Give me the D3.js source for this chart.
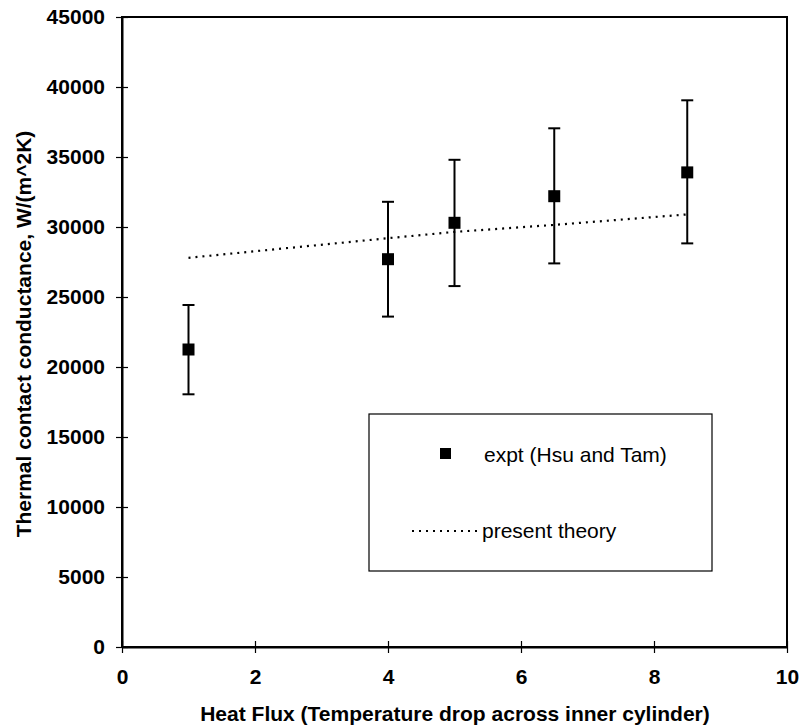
<!DOCTYPE html>
<html>
<head>
<meta charset="utf-8">
<script src="https://cdn.jsdelivr.net/npm/d3@7"></script>
<style>
  body { margin: 0; background: #fff; }
  svg { display: block; font-family: "Liberation Sans", Arial, sans-serif; }
</style>
</head>
<body>
<svg id="chart" width="800" height="726"></svg>
<script>
// experimental points (Hsu and Tam)
var exptX = [1, 4, 5, 6.5, 8.5];
var exptY = [21250, 27700, 30300, 32200, 33900];
var exptLow = [18050, 23600, 25780, 27400, 28830];
var exptHigh = [24430, 31800, 34800, 37050, 39050];

// present theory
var theoryX = [1, 4, 5, 6.5, 8.5];
var theoryY = [27800, 29200, 29650, 30150, 30900];

var xTicks = [0, 2, 4, 6, 8, 10];
var yTicks = [0, 5000, 10000, 15000, 20000, 25000, 30000, 35000, 40000, 45000];

var svg = d3.select("#chart");

var margin = {top: 17, right: 13, bottom: 79, left: 122},
    width = +svg.attr("width") - margin.left - margin.right,
    height = +svg.attr("height") - margin.top - margin.bottom,
    g = svg.append("g").attr("transform", "translate(" + margin.left + "," + margin.top + ")");

var x = d3.scaleLinear().domain([0, 10]).range([0, width]);
var y = d3.scaleLinear().domain([0, 45000]).range([height, 0]);

// frame
g.append("rect")
    .attr("width", width)
    .attr("height", height)
    .attr("fill", "none")
    .attr("stroke", "#000")
    .attr("stroke-width", 2);

// axes
var yAxis = g.append("g")
    .call(d3.axisLeft(y).tickValues(yTicks).tickFormat(d3.format("d"))
      .tickSizeInner(6).tickSizeOuter(0).tickPadding(11));
yAxis.select(".domain").attr("stroke-width", 2);
yAxis.selectAll(".tick line").attr("x2", 6).attr("x1", -6).attr("stroke-width", 1.2);
yAxis.selectAll(".tick text")
    .style("font-size", "21px")
    .style("font-weight", "bold")
    .attr("fill", "#000");

var xAxis = g.append("g")
    .attr("transform", "translate(0," + height + ")")
    .call(d3.axisBottom(x).tickValues(xTicks).tickSizeInner(6).tickSizeOuter(0).tickPadding(16));
xAxis.select(".domain").attr("stroke-width", 2);
xAxis.selectAll(".tick line").attr("y1", -6).attr("y2", 6).attr("stroke-width", 1.2);
xAxis.selectAll(".tick text")
    .style("font-size", "21px")
    .style("font-weight", "bold")
    .attr("fill", "#000");

// axis titles
svg.append("text")
    .attr("transform", "translate(31,334) rotate(-90)")
    .attr("text-anchor", "middle")
    .style("font-size", "21px")
    .style("font-weight", "bold")
    .text("Thermal contact conductance, W/(m^2K)");

svg.append("text")
    .attr("x", 455)
    .attr("y", 721)
    .attr("text-anchor", "middle")
    .style("font-size", "21px")
    .style("font-weight", "bold")
    .text("Heat Flux (Temperature drop across inner cylinder)");

// theory line
var theory = theoryX.map(function(d, i) { return [d, theoryY[i]]; });
g.append("path")
    .datum(theory)
    .attr("fill", "none")
    .attr("stroke", "#000")
    .attr("stroke-width", 2.2)
    .attr("stroke-dasharray", "2,5")
    .attr("d", d3.line().x(function(d) { return x(d[0]); }).y(function(d) { return y(d[1]); }));

// error bars and points
var pts = exptX.map(function(d, i) {
  return {x: d, y: exptY[i], lo: exptLow[i], hi: exptHigh[i]};
});

var eb = g.append("g").selectAll("g")
    .data(pts)
    .enter().append("g")
    .attr("stroke", "#000")
    .attr("stroke-width", 2);

eb.append("line")
    .attr("x1", function(d) { return x(d.x); })
    .attr("x2", function(d) { return x(d.x); })
    .attr("y1", function(d) { return y(d.lo); })
    .attr("y2", function(d) { return y(d.hi); });
eb.append("line")
    .attr("x1", function(d) { return x(d.x) - 6; })
    .attr("x2", function(d) { return x(d.x) + 6; })
    .attr("y1", function(d) { return y(d.lo); })
    .attr("y2", function(d) { return y(d.lo); });
eb.append("line")
    .attr("x1", function(d) { return x(d.x) - 6; })
    .attr("x2", function(d) { return x(d.x) + 6; })
    .attr("y1", function(d) { return y(d.hi); })
    .attr("y2", function(d) { return y(d.hi); });

g.append("g").selectAll("rect")
    .data(pts)
    .enter().append("rect")
    .attr("x", function(d) { return x(d.x) - 6; })
    .attr("y", function(d) { return y(d.y) - 6; })
    .attr("width", 12)
    .attr("height", 12)
    .attr("fill", "#000");

// legend
var legend = svg.append("g").attr("transform", "translate(369,414)");
legend.append("rect")
    .attr("width", 343)
    .attr("height", 157)
    .attr("fill", "#fff")
    .attr("stroke", "#000")
    .attr("stroke-width", 1.2);
legend.append("rect")
    .attr("x", 71)
    .attr("y", 34)
    .attr("width", 11)
    .attr("height", 11)
    .attr("fill", "#000");
legend.append("text")
    .attr("x", 115)
    .attr("y", 48)
    .style("font-size", "21px")
    .text("expt (Hsu and Tam)");
legend.append("line")
    .attr("x1", 43)
    .attr("x2", 112)
    .attr("y1", 117)
    .attr("y2", 117)
    .attr("stroke", "#000")
    .attr("stroke-width", 2.2)
    .attr("stroke-dasharray", "2,5");
legend.append("text")
    .attr("x", 113)
    .attr("y", 124)
    .style("font-size", "21px")
    .text("present theory");
</script>
</body>
</html>
